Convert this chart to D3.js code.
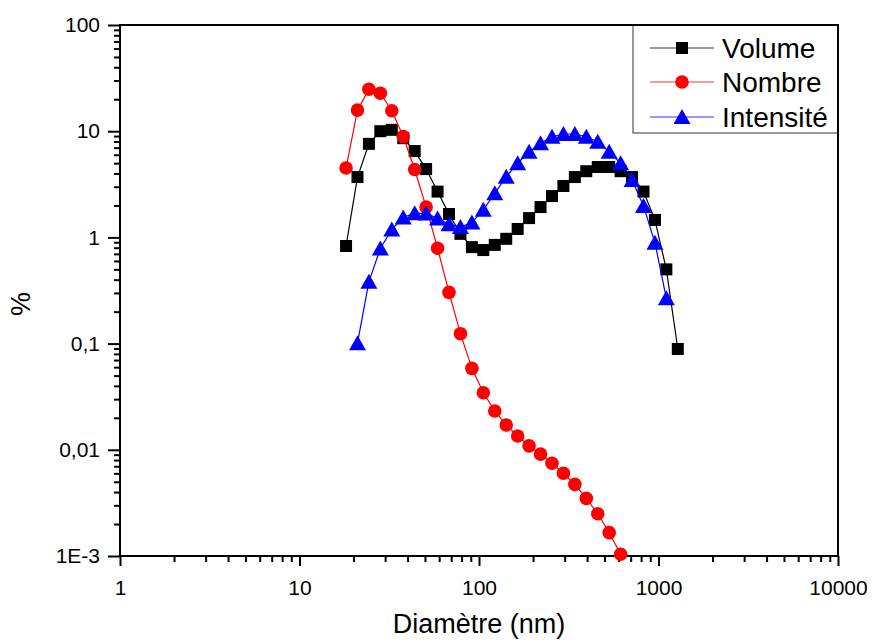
<!DOCTYPE html>
<html><head><meta charset="utf-8">
<script src="https://cdn.jsdelivr.net/npm/d3@7/dist/d3.min.js"></script>
<style>body{margin:0;background:#fff}svg{display:block;font-family:"Liberation Sans",Arial,sans-serif}</style>
</head><body><svg id="c" width="872" height="642"></svg>
<script>
const diameters = [18.17, 21.04, 24.36, 28.21, 32.67, 37.84, 43.82, 50.75, 58.77, 68.06, 78.82, 91.28, 105.7, 122.4, 141.8, 164.2, 190.1, 220.2, 255.0, 295.3, 342.0, 396.1, 458.7, 531.2, 615.1, 712.4, 825.0, 955.4, 1106, 1281];
const volumeSizes = diameters.slice(0, 30);
const volumeValues = [0.83, 3.7, 7.6, 10.0, 10.3, 8.6, 6.5, 4.4, 2.7, 1.66, 1.08, 0.81, 0.76, 0.85, 0.97, 1.2, 1.52, 1.93, 2.45, 3.05, 3.7, 4.2, 4.6, 4.6, 4.2, 3.7, 2.7, 1.46, 0.50, 0.089];
const numberSizes = diameters.slice(0, 25);
const numberValues = [4.5, 15.8, 24.8, 22.8, 15.6, 8.9, 4.36, 1.93, 0.79, 0.304, 0.124, 0.0585, 0.0345, 0.0232, 0.0171, 0.0135, 0.0109, 0.0091, 0.00746, 0.00601, 0.00473, 0.00349, 0.0025, 0.00166, 0.00104];
const intensitySizes = diameters.slice(1, 29);
const intensityValues = [0.101, 0.383, 0.785, 1.19, 1.54, 1.69, 1.68, 1.51, 1.33, 1.25, 1.38, 1.82, 2.60, 3.73, 4.99, 6.41, 7.69, 8.87, 9.41, 9.41, 8.87, 7.96, 6.41, 4.99, 3.47, 1.98, 0.89, 0.267];
const seriesNames = ["Volume", "Nombre", "Intensité"];
const xTickValues = [1, 10, 100, 1000, 10000];
const xTickLabels = ["1", "10", "100", "1000", "10000"];
const yTickValues = [100, 10, 1, 0.1, 0.01, 0.001];
const yTickLabels = ["100", "10", "1", "0,1", "0,01", "1E-3"];
const xTitle = "Diamètre (nm)";
const yTitle = "%";

const L = 120, R = 838, T = 25, B = 556;
const svg = d3.select("#c");
const x = d3.scaleLog().domain([1, 10000]).range([L, R]);
const y = d3.scaleLog().domain([0.001, 100]).range([B, T]);

function minors(lo, hi) {
  const out = [];
  for (let e = lo; e < hi; e++) for (let k = 2; k <= 9; k++) out.push(k * Math.pow(10, e));
  return out;
}

// x axis
const gx = svg.append("g").attr("transform", `translate(0,${B})`);
gx.call(d3.axisBottom(x).tickValues(xTickValues).tickFormat((d, i) => xTickLabels[i]).tickSize(10).tickPadding(14));
gx.append("g").call(d3.axisBottom(x).tickValues(minors(0, 4)).tickFormat("").tickSize(6));
// y axis
const gy = svg.append("g").attr("transform", `translate(${L},0)`);
gy.call(d3.axisLeft(y).tickValues(yTickValues).tickFormat((d, i) => yTickLabels[i]).tickSize(12).tickPadding(8));
gy.append("g").call(d3.axisLeft(y).tickValues(minors(-3, 2)).tickFormat("").tickSize(6));
svg.selectAll(".domain").remove();
svg.selectAll(".tick line").attr("stroke", "#000").attr("stroke-width", 2);
svg.selectAll(".tick text").attr("fill", "#000").style("font-size", "21px").style("font-family", '"Liberation Sans",Arial,sans-serif');
// frame
svg.append("rect").attr("x", L).attr("y", T).attr("width", R - L).attr("height", B - T)
  .attr("fill", "none").attr("stroke", "#000").attr("stroke-width", 2);

// titles
svg.append("text").attr("x", (L + R) / 2).attr("y", 633).attr("text-anchor", "middle")
  .style("font-size", "27px").text(xTitle);
svg.append("text").attr("transform", "translate(30,304) rotate(-90)").attr("text-anchor", "middle")
  .style("font-size", "27px").text(yTitle);

function marker(g, type, color) {
  if (type === "square") g.append("rect").attr("x", -6).attr("y", -6).attr("width", 12).attr("height", 12).attr("fill", color);
  else if (type === "circle") g.append("circle").attr("r", 6.8).attr("fill", color);
  else g.append("path").attr("d", "M0,-8L8.5,7L-8.5,7Z").attr("fill", color);
}

const series = [
  {name: seriesNames[0], xs: volumeSizes, ys: volumeValues, color: "#000000", m: "square"},
  {name: seriesNames[1], xs: numberSizes, ys: numberValues, color: "#ff0000", m: "circle"},
  {name: seriesNames[2], xs: intensitySizes, ys: intensityValues, color: "#0000ff", m: "triangle"}
];
const line = d3.line().x(d => x(d[0])).y(d => y(d[1]));
series.forEach(s => {
  const pts = s.xs.map((v, i) => [v, s.ys[i]]);
  svg.append("path").attr("d", line(pts)).attr("fill", "none").attr("stroke", s.color).attr("stroke-width", 1.2);
  pts.forEach(p => {
    const g = svg.append("g").attr("transform", `translate(${x(p[0])},${y(p[1])})`);
    marker(g, s.m, s.color);
  });
});

// legend
const lg = svg.append("g");
lg.append("rect").attr("x", 633).attr("y", T).attr("width", R - 633).attr("height", 108)
  .attr("fill", "#fff").attr("stroke", "#333").attr("stroke-width", 1);
svg.append("line").attr("x1", R).attr("x2", R).attr("y1", T).attr("y2", T + 110).attr("stroke", "#000").attr("stroke-width", 2);
svg.append("line").attr("x1", 633).attr("x2", R).attr("y1", T).attr("y2", T).attr("stroke", "#000").attr("stroke-width", 2);
const rowsY = [48, 82, 117];
series.forEach((s, i) => {
  lg.append("line").attr("x1", 650).attr("x2", 714).attr("y1", rowsY[i]).attr("y2", rowsY[i])
    .attr("stroke", s.color).attr("stroke-width", 1.2).attr("opacity", 0.8);
  const g = lg.append("g").attr("transform", `translate(682,${rowsY[i]})`);
  marker(g, s.m, s.color);
  lg.append("text").attr("x", 722).attr("y", rowsY[i] + 10).style("font-size", "28px").text(s.name);
});
</script></body></html>
